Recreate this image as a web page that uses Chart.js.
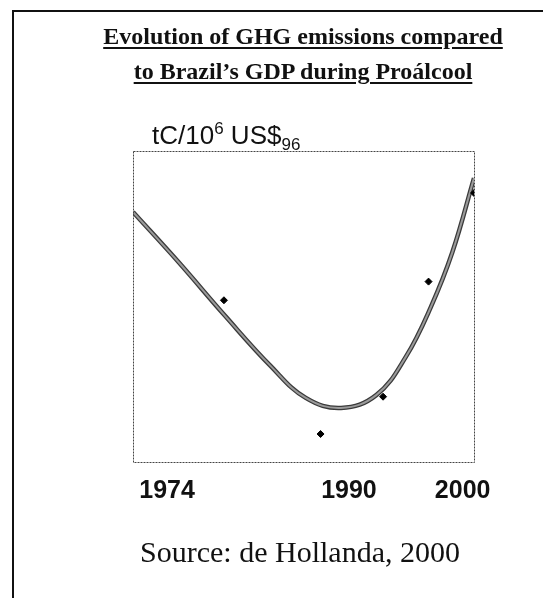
<!DOCTYPE html>
<html>
<head>
<meta charset="utf-8">
<script src="https://cdn.jsdelivr.net/npm/chart.js@4/dist/chart.umd.min.js"></script>
<style>
  html, body { margin: 0; padding: 0; background: #fff; }
  #page { position: relative; width: 554px; height: 598px; overflow: hidden; }
  #frame { position: absolute; left: 12px; top: 10px; width: 529px; height: 600px;
           border-left: 2px solid #111; border-top: 2px solid #111; }
  canvas { position: absolute; left: 0; top: 0; }
  .title { position: absolute; left: 3px; width: 600px; text-align: center; white-space: nowrap;
           font: bold 24px "Liberation Serif", "Times New Roman", serif; line-height: 1; color: #111;
           text-decoration: underline; text-decoration-thickness: 2px; text-underline-offset: 3px; }
  #unit { position: absolute; left: 152px; top: 120px; white-space: nowrap;
          font: 26px "Liberation Sans", Arial, sans-serif; line-height: 1; color: #111; }
  #unit sup, #unit sub { font-size: 17px; }
  #source { position: absolute; left: 0; width: 600px; top: 537px; text-align: center; white-space: nowrap;
            font: 30px "Liberation Serif", "Times New Roman", serif; line-height: 1; color: #111; }
</style>
</head>
<body>
<div id="page">
  <div id="frame"></div>
  <canvas id="chart" width="554" height="598"></canvas>
  <div class="title" style="top:24px">Evolution of GHG emissions compared</div>
  <div class="title" style="top:59px">to Brazil’s GDP during Proálcool</div>
  <div id="unit">tC/10<sup>6</sup> US$<sub>96</sub></div>
  <div id="source">Source: de Hollanda, 2000</div>
</div>
<script>
  const pointYears = [1979, 1987.5, 1993, 1997, 2001];
  const pointValues = [52, 9, 21, 58, 86.5];

  // fitted trend curve
  const trendYears = [1971, 1975, 1979.1, 1983.1, 1986.2, 1989.3, 1992.4, 1995, 1997.2, 1999.1, 2001];
  const trendValues = [80.4, 64.3, 47, 30.9, 20.6, 17.4, 21.5, 33.8, 49.8, 67.5, 91.3];

  // x axis labels
  const tickYears = [1974, 1990, 2000];
  const tickLabels = ['1974', '1990', '2000'];

  const xy = (xs, ys) => xs.map((x, i) => ({ x, y: ys[i] }));

  // dotted box round the plot area
  const plotFrame = {
    id: 'plotFrame',
    afterDraw(chart) {
      const { ctx, chartArea: a } = chart;
      ctx.save();
      ctx.strokeStyle = '#444';
      ctx.lineWidth = 1;
      ctx.setLineDash([2, 1]);
      ctx.strokeRect(a.left + 0.5, a.top + 0.5, a.right - a.left, a.bottom - a.top);
      ctx.restore();
    }
  };

  new Chart(document.getElementById('chart'), {
    type: 'scatter',
    data: {
      datasets: [
        {
          data: xy(pointYears, pointValues),
          pointStyle: 'rectRot',
          pointRadius: 3.5,
          backgroundColor: '#000',
          borderColor: '#000',
          order: 0
        },
        {
          type: 'line',
          data: xy(trendYears, trendValues),
          borderColor: '#9a9a9a',
          borderWidth: 2,
          tension: 0.4,
          pointRadius: 0,
          order: 1
        },
        {
          type: 'line',
          data: xy(trendYears, trendValues),
          borderColor: '#3a3a3a',
          borderWidth: 4.5,
          tension: 0.4,
          pointRadius: 0,
          order: 2
        }
      ]
    },
    options: {
      responsive: false,
      animation: false,
      layout: { padding: { left: 133, top: 151, right: 80, bottom: 92 } },
      plugins: { legend: { display: false }, tooltip: { enabled: false } },
      scales: {
        x: {
          type: 'linear',
          min: 1971,
          max: 2001,
          grid: { display: false, drawTicks: false },
          border: { display: false },
          afterBuildTicks: s => { s.ticks = tickYears.map(v => ({ value: v })); },
          afterFit: s => { s.height = 44; },
          ticks: {
            padding: 14,
            color: '#111',
            font: { family: 'Liberation Sans', size: 25, weight: 'bold' },
            callback: v => tickLabels[tickYears.indexOf(v)]
          }
        },
        y: {
          display: false,
          min: 0,
          max: 100
        }
      }
    },
    plugins: [plotFrame]
  });
</script>
</body>
</html>
